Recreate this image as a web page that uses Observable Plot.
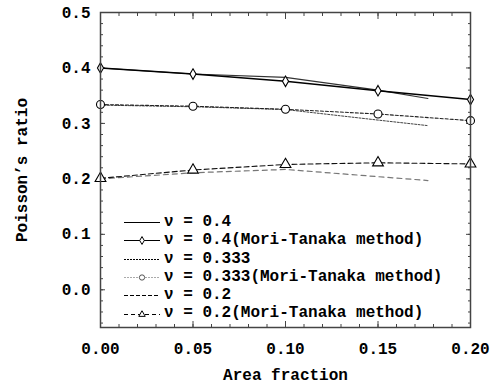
<!DOCTYPE html>
<html>
<head>
<meta charset="utf-8">
<script src="https://cdn.jsdelivr.net/npm/d3@7"></script>
<script src="https://cdn.jsdelivr.net/npm/@observablehq/plot@0.6"></script>
<style>
  html, body { margin: 0; padding: 0; background: #fff; }
  #wrap { position: relative; width: 498px; height: 386px; font-family: "Liberation Mono", "DejaVu Sans Mono", monospace; font-weight: bold; }
  #legend { position: absolute; left: 124px; top: 213px; font-size: 16px; line-height: 18.3px; }
  .row { display: flex; align-items: center; height: 18.3px; white-space: pre; }
  .row svg { margin-right: 2px; }
</style>
</head>
<body>
<div id="wrap"><div id="chart"></div><div id="legend"></div></div>
<script>
// ---- data ----
const xMT = [0, 0.05, 0.10, 0.15, 0.20];        // Mori-Tanaka points
const xFE = [0, 0.05, 0.10, 0.15, 0.177];       // curves without markers
const nu04     = [0.400, 0.389, 0.383, 0.360, 0.345];
const nu04MT   = [0.400, 0.389, 0.376, 0.359, 0.343];
const nu0333   = [0.333, 0.330, 0.325, 0.306, 0.296];
const nu0333MT = [0.334, 0.331, 0.3255, 0.317, 0.305];
const nu02     = [0.200, 0.211, 0.217, 0.204, 0.197];
const nu02MT   = [0.201, 0.216, 0.226, 0.229, 0.227];

const xMajor = [0, 0.05, 0.10, 0.15, 0.20];
const xMinor = d3.range(0, 0.2001, 0.01);
const yMajor = [0, 0.1, 0.2, 0.3, 0.4, 0.5];
const yMinor = d3.range(-0.06, 0.5001, 0.02);
const legendLabels = [
  "ν = 0.4",
  "ν = 0.4(Mori-Tanaka method)",
  "ν = 0.333",
  "ν = 0.333(Mori-Tanaka method)",
  "ν = 0.2",
  "ν = 0.2(Mori-Tanaka method)"
];

const series = [
  {x: xFE, y: nu04,     stroke: "#333", dash: null,  width: 1.1, symbol: null},
  {x: xMT, y: nu04MT,   stroke: "#000", dash: null,  width: 1.4, symbol: "diamond", r: 3.2},
  {x: xFE, y: nu0333,   stroke: "#444", dash: "2,1.5", width: 1, symbol: null},
  {x: xMT, y: nu0333MT, stroke: "#222", dash: "3,2", width: 1.1, symbol: "circle", r: 4},
  {x: xFE, y: nu02,     stroke: "#777", dash: "5,4", width: 1.2, symbol: null},
  {x: xMT, y: nu02MT,   stroke: "#111", dash: "5,3", width: 1.1, symbol: "triangle", r: 4}
];
const legendStyle = [
  {stroke: "#000", dash: null},
  {stroke: "#000", dash: null},
  {stroke: "#000", dash: "2,1"},
  {stroke: "#aaa", dash: "2,1"},
  {stroke: "#000", dash: "4,2"},
  {stroke: "#000", dash: "4,3"}
];

const fmt = d => d3.format(".1f")(d);
const fmt2 = d => d3.format(".2f")(d);
const blank = () => "";

const marks = [];
series.forEach(s => {
  const pts = s.x.map((x, i) => ({x, y: s.y[i]}));
  marks.push(Plot.line(pts, {x: "x", y: "y", stroke: s.stroke, strokeWidth: s.width, strokeDasharray: s.dash}));
  if (s.symbol) marks.push(Plot.dot(pts, {x: "x", y: "y", symbol: s.symbol, r: s.r, stroke: "#000", fill: "white", strokeWidth: 1.1}));
});

const chart = Plot.plot({
  width: 498,
  height: 386,
  marginLeft: 100,
  marginRight: 28,
  marginTop: 12,
  marginBottom: 59,
  style: {fontFamily: "Liberation Mono, DejaVu Sans Mono, monospace", fontSize: "16px", fontWeight: "bold", color: "#000", background: "white"},
  x: {domain: [0, 0.2]},
  y: {domain: [-0.068, 0.5]},
  marks: [
    // left axis
    Plot.axisY(yMajor, {anchor: "left", tickSize: -5, tickPadding: 15, tickFormat: fmt, label: "Poisson’s ratio", labelAnchor: "center", labelArrow: "none", labelOffset: 85, stroke: "#444"}),
    Plot.axisY(yMinor, {anchor: "left", tickSize: -3, tickFormat: blank, label: null, stroke: "#444"}),
    // right axis
    Plot.axisY(yMajor, {anchor: "right", tickSize: -5, tickFormat: blank, label: null, stroke: "#444"}),
    Plot.axisY(yMinor, {anchor: "right", tickSize: -3, tickFormat: blank, label: null, stroke: "#444"}),
    // bottom axis
    Plot.axisX(xMajor, {anchor: "bottom", tickSize: -6, tickPadding: 21, tickFormat: fmt2, label: "Area fraction", labelAnchor: "center", labelArrow: "none", labelOffset: 52, stroke: "#444"}),
    Plot.axisX(xMinor, {anchor: "bottom", tickSize: -3, tickFormat: blank, label: null, stroke: "#444"}),
    // top axis
    Plot.axisX(xMajor, {anchor: "top", tickSize: -6, tickFormat: blank, label: null, stroke: "#444"}),
    Plot.axisX(xMinor, {anchor: "top", tickSize: -3, tickFormat: blank, label: null, stroke: "#444"}),
    ...marks,
    Plot.frame({stroke: "#444", strokeWidth: 1.5})
  ]
});
document.getElementById("chart").appendChild(chart);

// legend
const legend = d3.select("#legend");
legendLabels.forEach((label, i) => {
  const row = legend.append("div").attr("class", "row");
  const svg = row.append("svg").attr("width", 38).attr("height", 18);
  const st = legendStyle[i];
  svg.append("line").attr("x1", 0).attr("x2", 36).attr("y1", 9.5).attr("y2", 9.5)
    .attr("stroke", st.stroke).attr("stroke-width", 1.1)
    .attr("stroke-dasharray", st.dash);
  const sym = series[i].symbol;
  if (sym) {
    const path = d3.symbol(sym === "diamond" ? d3.symbolDiamond : sym === "circle" ? d3.symbolCircle : d3.symbolTriangle, sym === "circle" ? 22 : 18)();
    svg.append("path").attr("d", path).attr("transform", "translate(18,9.5)")
      .attr("fill", "white").attr("stroke", sym === "circle" ? "#555" : "#000").attr("stroke-width", 1);
  }
  row.append("span").text(label);
});
</script>
</body>
</html>
